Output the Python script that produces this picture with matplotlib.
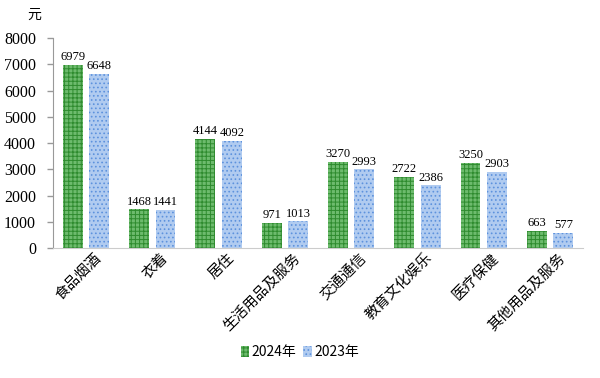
import matplotlib.pyplot as plt
import matplotlib.transforms as mtransforms
import numpy as np

categories = ["食品烟酒", "衣着", "居住", "生活用品及服务", "交通通信", "教育文化娱乐", "医疗保健", "其他用品及服务"]
values_2024 = [6979, 1468, 4144, 971, 3270, 2722, 3250, 663]
values_2023 = [6648, 1441, 4092, 1013, 2993, 2386, 2903, 577]

cjk = ["Noto Sans CJK SC", "DejaVu Sans"]
num_font = "Liberation Serif"
plt.rcParams["hatch.linewidth"] = 0.7

fig = plt.figure(figsize=(6, 3.78), dpi=100)
ax = fig.add_axes([0.088, 0.344, 0.884, 0.555])

x = np.arange(len(categories))
w = 0.3
b1 = ax.bar(x - 0.2, values_2024, w, color="#6dbb6d", edgecolor="#2e8b2e",
            hatch="++++", linewidth=0, label="2024年")
b2 = ax.bar(x + 0.2, values_2023, w, color="#b0cbf0", edgecolor="#5d92dd",
            hatch="....", linewidth=0, label="2023年")

for rect, v in zip(b1, values_2024):
    ax.text(rect.get_x() + rect.get_width() / 2, v + 70, str(v), ha="center",
            va="bottom", fontsize=9, family=num_font)
for rect, v in zip(b2, values_2023):
    ax.text(rect.get_x() + rect.get_width() / 2, v + 70, str(v), ha="center",
            va="bottom", fontsize=9, family=num_font)

ax.set_xlim(-0.5, len(categories) - 0.5)
ax.set_ylim(0, 8000)
ax.set_yticks(range(0, 8001, 1000))
ax.set_yticklabels([str(t) for t in range(0, 8001, 1000)], family=num_font, fontsize=11.5)
ax.set_xticks(x)
ax.set_xticklabels(categories, rotation=45, ha="right", rotation_mode="anchor",
                   family=cjk, fontsize=10.5)
ax.tick_params(axis="x", length=0, pad=2)
shift = mtransforms.ScaledTranslation(8 / 100, 0, fig.dpi_scale_trans)
for lbl in ax.get_xticklabels():
    lbl.set_transform(lbl.get_transform() + shift)
ax.tick_params(axis="y", length=4, color="#999999", width=1, pad=8)
for s in ["top", "right"]:
    ax.spines[s].set_visible(False)
ax.spines["left"].set_color("#999999")
ax.spines["bottom"].set_color("#cccccc")

fig.text(0.057, 0.962, "元", family=cjk, fontsize=10, ha="center", va="center")

leg = fig.legend(handles=[b1, b2], loc="center", bbox_to_anchor=(0.5, 0.068), ncol=2,
                 frameon=False, handlelength=0.6, handleheight=0.9, handletextpad=0.2,
                 columnspacing=0.5, prop={"family": cjk, "size": 10})

fig.savefig("out.png", dpi=100)
